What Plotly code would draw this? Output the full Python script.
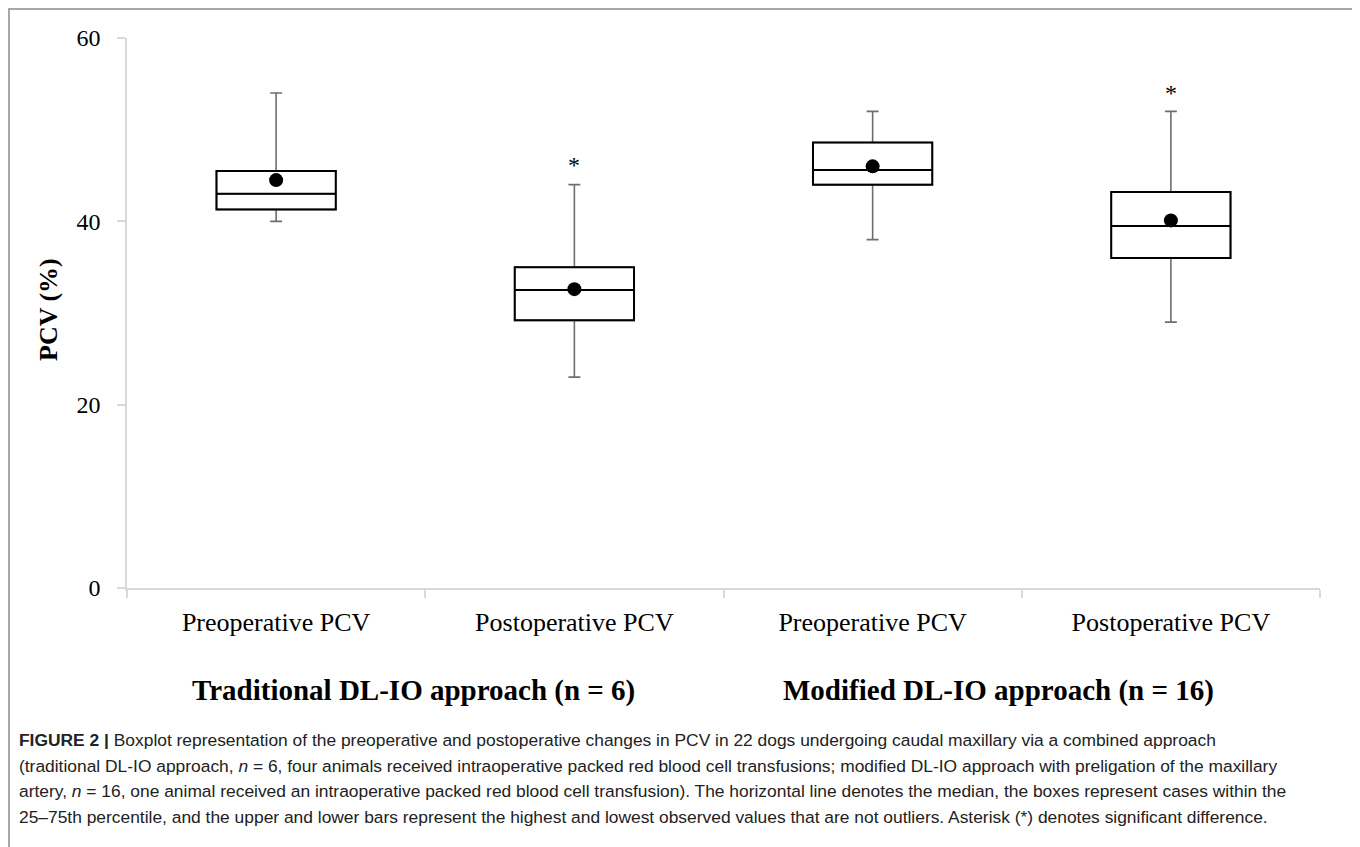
import plotly.graph_objects as go

# ---- data ----
categories = ["Preoperative PCV", "Postoperative PCV", "Preoperative PCV\u200b", "Postoperative PCV\u200b"]
q1 = [41.3, 29.2, 44.0, 36.0]
median = [43.0, 32.5, 45.6, 39.5]
q3 = [45.5, 35.0, 48.6, 43.2]
lower = [40.0, 23.0, 38.0, 29.0]
upper = [54.0, 44.0, 52.0, 52.0]
means = [44.5, 32.6, 46.0, 40.1]
sig_cats = ["Postoperative PCV", "Postoperative PCV\u200b"]
sig_y = [46.2, 54.0]
y_ticks = [0, 20, 40, 60]
group_labels = ["Traditional DL-IO approach (n = 6)", "Modified DL-IO approach (n = 16)"]
caption_lines = [
    "<b>FIGURE 2 |</b> Boxplot representation of the preoperative and postoperative changes in PCV in 22 dogs undergoing caudal maxillary via a combined approach",
    "(traditional DL-IO approach, <i>n</i> = 6, four animals received intraoperative packed red blood cell transfusions; modified DL-IO approach with preligation of the maxillary",
    "artery, <i>n</i> = 16, one animal received an intraoperative packed red blood cell transfusion). The horizontal line denotes the median, the boxes represent cases within the",
    "25–75th percentile, and the upper and lower bars represent the highest and lowest observed values that are not outliers. Asterisk (*) denotes significant difference.",
]

# ---- geometry helpers (page pixels -> paper); page body has an 8px margin ----
OFF = 8
W, H = 1352, 839
L, R, T, B = 119, 40, 30, 259
pw, ph = W - L - R, H - T - B
def px(x): return (x - OFF - L) / pw
def py(y): return (H - B - (y - OFF)) / ph

serif = "Liberation Serif, Times New Roman, serif"
sans = "Liberation Sans, Arial, sans-serif"

fig = go.Figure()
# whiskers (gray)
fig.add_trace(go.Box(
    x=categories, q1=q1, median=median, q3=q3, lowerfence=lower, upperfence=upper,
    line=dict(color="#6e6e6e", width=1.6), fillcolor="white",
    width=0.4, whiskerwidth=0.1, boxpoints=False, showlegend=False, hoverinfo="skip"))
# boxes (black)
fig.add_trace(go.Box(
    x=categories, q1=q1, median=median, q3=q3, lowerfence=q1, upperfence=q3,
    line=dict(color="black", width=2), fillcolor="rgba(255,255,255,0)",
    width=0.4, whiskerwidth=0.1, boxpoints=False, showlegend=False))
# means
fig.add_trace(go.Scatter(
    x=categories, y=means, mode="markers",
    marker=dict(color="black", size=14), showlegend=False))

fig.update_layout(
    width=W, height=H, boxmode="overlay",
    margin=dict(l=L, r=R, t=T, b=B),
    paper_bgcolor="white", plot_bgcolor="white",
    font=dict(family=serif, size=24, color="black"),
    xaxis=dict(type="category", categoryorder="array", categoryarray=categories,
               range=[-0.5, len(categories) - 0.5],
               showline=True, linecolor="#d9d9d9", linewidth=1.5,
               ticks="outside", tickson="boundaries", ticklen=8, tickcolor="#d9d9d9",
               tickwidth=1.5, showgrid=False, zeroline=False,
               tickfont=dict(family=serif, size=26), ticklabelstandoff=10),
    yaxis=dict(range=[0, 60], tickvals=y_ticks, showline=True, linecolor="#d9d9d9",
               linewidth=1.5, ticks="outside", ticklen=8, tickcolor="#d9d9d9",
               tickwidth=1.5, showgrid=False, zeroline=False,
               tickfont=dict(family=serif, size=24), ticklabelstandoff=12),
)

ann = []
for c, v in zip(sig_cats, sig_y):
    ann.append(dict(x=c, y=v, xref="x", yref="y", text="*", showarrow=False,
                    font=dict(family=serif, size=24)))
ann.append(dict(x=px(48), y=py(310), xref="paper", yref="paper", text="<b>PCV (%)</b>",
                textangle=-90, showarrow=False, xanchor="center", yanchor="middle",
                font=dict(family=serif, size=26)))
for lab, cx in zip(group_labels, [413, 998]):
    ann.append(dict(x=px(cx), y=py(690), xref="paper", yref="paper", text=f"<b>{lab}</b>",
                    showarrow=False, xanchor="center", yanchor="middle",
                    font=dict(family=serif, size=29)))
for line, cy in zip(caption_lines, [740, 766, 791, 817]):
    ann.append(dict(x=px(17), y=py(cy), xref="paper", yref="paper", text=line,
                    xanchor="left", yanchor="middle", showarrow=False,
                    font=dict(family=sans, size=17.4, color="#222")))
fig.update_layout(annotations=ann)

fig.add_shape(type="rect", xref="paper", yref="paper",
              x0=px(9), x1=px(1358), y0=py(9), y1=py(870),
              line=dict(color="#8a8a8a", width=1.5), fillcolor="rgba(0,0,0,0)", layer="below")

fig.write_html("out.html")
